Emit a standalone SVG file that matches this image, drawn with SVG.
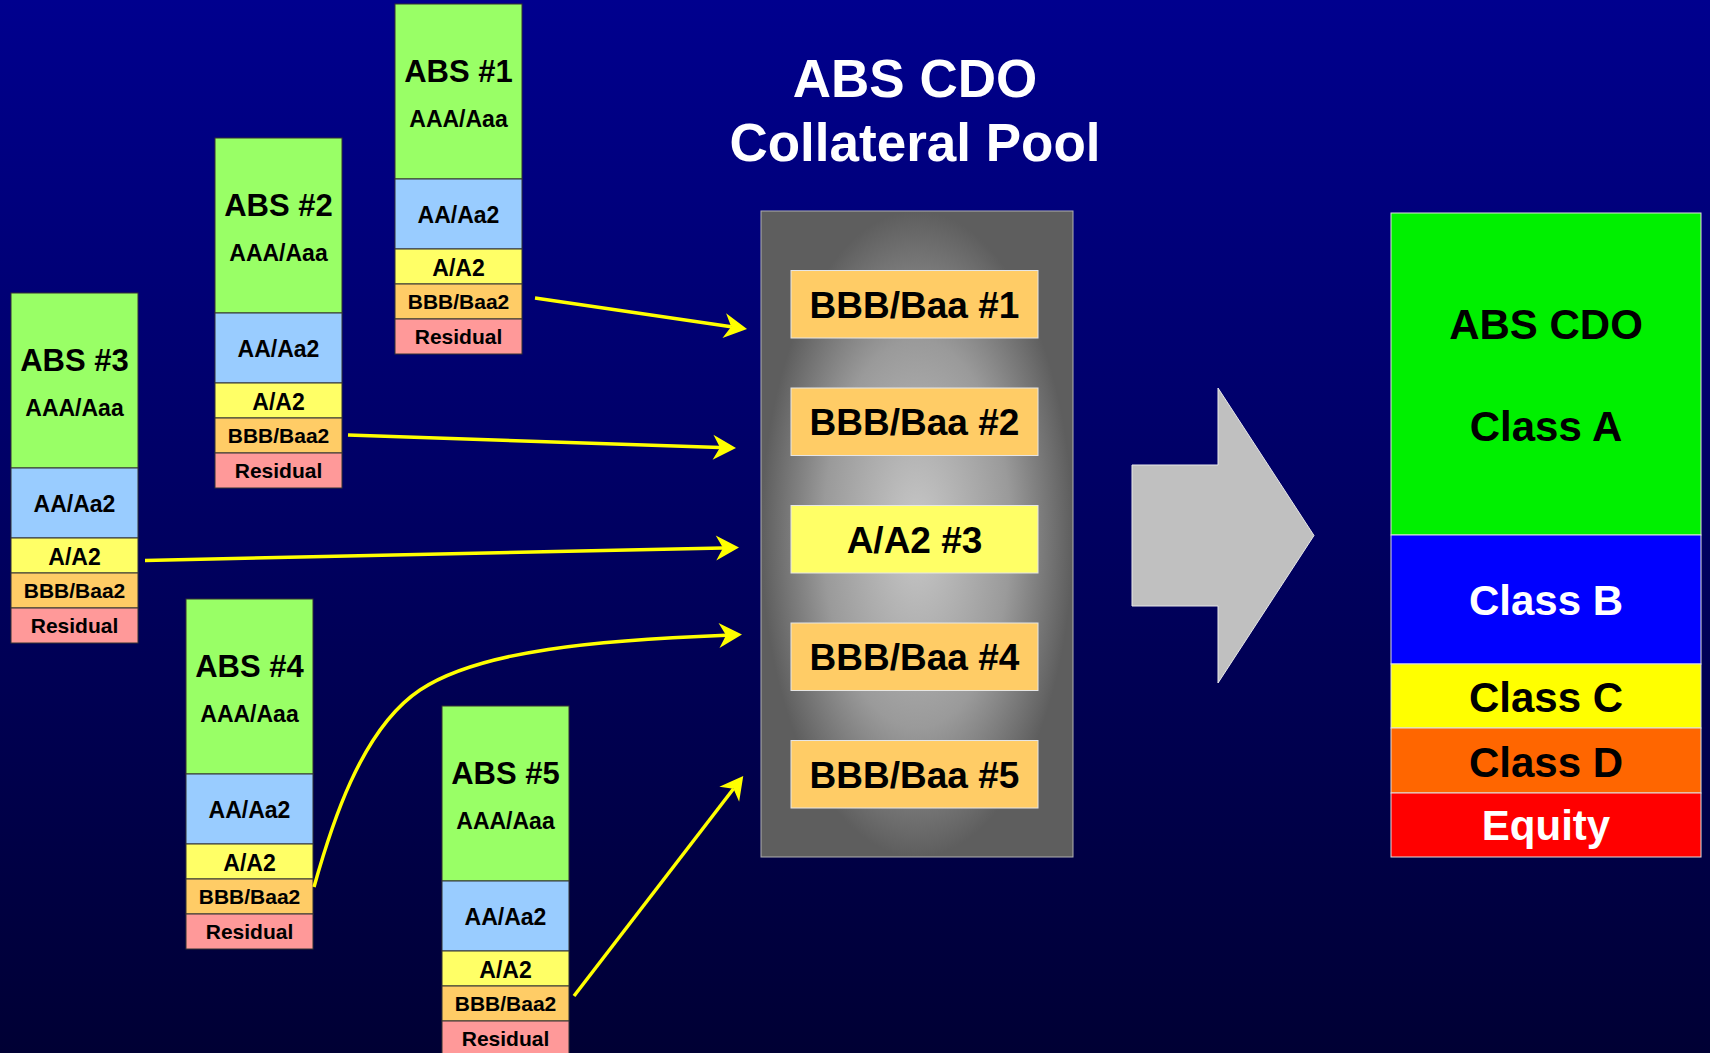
<svg xmlns="http://www.w3.org/2000/svg" width="1710" height="1053" viewBox="0 0 1710 1053">
  <defs>
    <linearGradient id="bg" x1="0" y1="0" x2="0" y2="1">
      <stop offset="0" stop-color="#00008e"/>
      <stop offset="1" stop-color="#000034"/>
    </linearGradient>
    <radialGradient id="poolFill" cx="0.5" cy="0.5" r="0.5">
      <stop offset="0" stop-color="#c8c8c8"/>
      <stop offset="0.6" stop-color="#9a9a9a"/>
      <stop offset="1" stop-color="#5e5e5e"/>
    </radialGradient>
    <marker id="head" markerUnits="userSpaceOnUse" viewBox="-8 -13 25 26" refX="0" refY="0" markerWidth="25" markerHeight="26" orient="auto" overflow="visible">
      <path d="M16,0 L-7,-12.5 L0,0 L-7,12.5 Z" fill="#ffff00"/>
    </marker>
    <style>
      text { font-family: "Liberation Sans", Arial, Helvetica, sans-serif; font-weight: bold; text-anchor: middle; fill: #000; }
      .seg { stroke: #333; stroke-width: 1; }
      .aaa { fill: #99ff66; }
      .aa { fill: #99ccff; }
      .a { fill: #ffff66; }
      .bbb { fill: #ffcc66; }
      .res { fill: #ff9999; }
      .t31 { font-size: 31px; }
      .t23 { font-size: 23px; }
      .t21 { font-size: 21px; }
      .title { font-size: 53px; fill: #fff; }
      .slot { stroke: #e6e6e6; stroke-width: 1; }
      .t36 { font-size: 37px; }
      .tr { stroke: #e0e0e0; stroke-width: 1; }
      .t41 { font-size: 42px; }
      .wht { fill: #fff; }
      .conn { fill: none; stroke: #ffff00; stroke-width: 3.5; marker-end: url(#head); }
    </style>
    <!-- one underlying ABS deal: five stacked tranches, 127 wide -->
    <g id="absStack">
      <rect class="seg aaa" x="0" y="0" width="127" height="175"/>
      <rect class="seg aa" x="0" y="175" width="127" height="70"/>
      <rect class="seg a" x="0" y="245" width="127" height="35"/>
      <rect class="seg bbb" x="0" y="280" width="127" height="35"/>
      <rect class="seg res" x="0" y="315" width="127" height="35"/>
      <text class="t23" x="63.5" y="123">AAA/Aaa</text>
      <text class="t23" x="63.5" y="219">AA/Aa2</text>
      <text class="t23" x="63.5" y="272">A/A2</text>
      <text class="t21" x="63.5" y="305">BBB/Baa2</text>
      <text class="t21" x="63.5" y="340">Residual</text>
    </g>
  </defs>

  <rect width="1710" height="1053" fill="url(#bg)"/>

  <!-- ABS deals -->
  <g id="abs1" transform="translate(395,4)">
    <use href="#absStack"/>
    <text class="t31" x="63.5" y="78">ABS #1</text>
  </g>
  <g id="abs2" transform="translate(215,138)">
    <use href="#absStack"/>
    <text class="t31" x="63.5" y="78">ABS #2</text>
  </g>
  <g id="abs3" transform="translate(11,293)">
    <use href="#absStack"/>
    <text class="t31" x="63.5" y="78">ABS #3</text>
  </g>
  <g id="abs4" transform="translate(186,599)">
    <use href="#absStack"/>
    <text class="t31" x="63.5" y="78">ABS #4</text>
  </g>
  <g id="abs5" transform="translate(442,706)">
    <use href="#absStack"/>
    <text class="t31" x="63.5" y="78">ABS #5</text>
  </g>

  <!-- collateral pool -->
  <g id="poolTitle">
    <text class="title" x="915" y="97">ABS CDO</text>
    <text class="title" x="915" y="161">Collateral Pool</text>
  </g>
  <g id="pool">
    <rect x="761" y="211" width="312" height="646" fill="url(#poolFill)" stroke="#b0b0b0" stroke-width="1"/>
    <g id="slot1">
      <rect class="slot bbb" x="791" y="270.5" width="247" height="67.5"/>
      <text class="t36" x="914.5" y="317.5">BBB/Baa #1</text>
    </g>
    <g id="slot2">
      <rect class="slot bbb" x="791" y="388" width="247" height="67.5"/>
      <text class="t36" x="914.5" y="435">BBB/Baa #2</text>
    </g>
    <g id="slot3">
      <rect class="slot a" x="791" y="505.5" width="247" height="67.5"/>
      <text class="t36" x="914.5" y="552.5">A/A2 #3</text>
    </g>
    <g id="slot4">
      <rect class="slot bbb" x="791" y="623" width="247" height="67.5"/>
      <text class="t36" x="914.5" y="670">BBB/Baa #4</text>
    </g>
    <g id="slot5">
      <rect class="slot bbb" x="791" y="740.5" width="247" height="67.5"/>
      <text class="t36" x="914.5" y="787.5">BBB/Baa #5</text>
    </g>
  </g>

  <!-- block arrow into the CDO -->
  <g id="bigArrow">
    <polygon points="1132,465 1218,465 1218,388 1314,535.5 1218,683 1218,606 1132,606" fill="#c0c0c0" stroke="#e8e8e8" stroke-width="1"/>
  </g>

  <!-- CDO capital structure -->
  <g id="cdo">
    <rect class="tr" x="1391" y="213" width="310" height="322" fill="#00f000"/>
    <rect class="tr" x="1391" y="535" width="310" height="129" fill="#0000ff"/>
    <rect class="tr" x="1391" y="664" width="310" height="64" fill="#ffff00"/>
    <rect class="tr" x="1391" y="728" width="310" height="65" fill="#ff6600"/>
    <rect class="tr" x="1391" y="793" width="310" height="64" fill="#ff0000"/>
    <text class="t41" x="1546" y="339">ABS CDO</text>
    <text class="t41" x="1546" y="441">Class A</text>
    <text class="t41 wht" x="1546" y="615">Class B</text>
    <text class="t41" x="1546" y="712">Class C</text>
    <text class="t41" x="1546" y="777">Class D</text>
    <text class="t41 wht" x="1546" y="840">Equity</text>
  </g>

  <!-- BBB / A tranches flowing into the pool -->
  <g id="connectors">
    <path class="conn" d="M535,298 L731.2,326.7"/>
    <path class="conn" d="M348,435 L720,447.5"/>
    <path class="conn" d="M145,560.5 L723,547.9"/>
    <path class="conn" d="M314,887 C330,830 360,730 420,690 C480,650 600,640 726,635.2"/>
    <path class="conn" d="M574,996 L733.5,788.7"/>
  </g>
</svg>
